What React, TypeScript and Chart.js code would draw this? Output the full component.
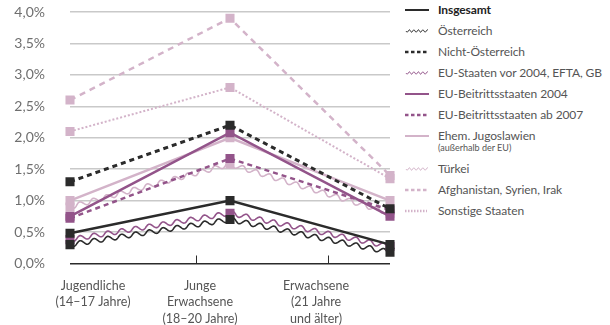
import React, { useEffect, useRef } from "react";
import { Chart, registerables } from "chart.js";

Chart.register(...registerables);

// ---- data ----
const categories: string[][] = [
  ["Jugendliche", "(14–17 Jahre)"],
  ["Junge", "Erwachsene", "(18–20 Jahre)"],
  ["Erwachsene", "(21 Jahre", "und älter)"],
];
const insgesamt = [0.48, 1.0, 0.3];
const oesterreich = [0.3, 0.7, 0.18];
const nichtOesterreich = [1.3, 2.2, 0.87];
const euVor2004 = [0.38, 0.8, 0.27];
const eu2004 = [0.75, 2.08, 0.75];
const euAb2007 = [0.72, 1.67, 0.85];
const jugoslawien = [1.0, 2.0, 1.0];
const tuerkei = [0.9, 1.58, 0.8];
const afghanistan = [2.6, 3.9, 1.4];
const sonstige = [2.1, 2.8, 1.35];
const yMin = 0;
const yMax = 4;
const yStep = 0.5;

// ---- styles ----
const DARK = "#2b2b2b";
const PURPLE = "#93548a";
const LIGHT = "#d3b3c9";
const FONT = "Lato, 'Open Sans', sans-serif";
const labelShift = [23, -30, -74];
const xTickMarks = [0.79, 1.61];

type Kind = "solid" | "wavy" | "dashed" | "dotted";
interface SeriesDef {
  label: string;
  sub?: string;
  data: number[];
  color: string;
  kind: Kind;
  dash?: number[];
  width: number;
  bold?: boolean;
}

const series: SeriesDef[] = [
  { label: "Insgesamt", data: insgesamt, color: DARK, kind: "solid", width: 2.5, bold: true },
  { label: "Österreich", data: oesterreich, color: DARK, kind: "wavy", width: 1.6 },
  { label: "Nicht-Österreich", data: nichtOesterreich, color: DARK, kind: "dashed", dash: [5, 4], width: 3 },
  { label: "EU-Staaten vor 2004, EFTA, GB", data: euVor2004, color: PURPLE, kind: "wavy", width: 1.6 },
  { label: "EU-Beitrittsstaaten 2004", data: eu2004, color: PURPLE, kind: "solid", width: 2.5 },
  { label: "EU-Beitrittsstaaten ab 2007", data: euAb2007, color: PURPLE, kind: "dashed", dash: [5, 4], width: 2.5 },
  { label: "Ehem. Jugoslawien", sub: "(außerhalb der EU)", data: jugoslawien, color: LIGHT, kind: "solid", width: 2.5 },
  { label: "Türkei", data: tuerkei, color: LIGHT, kind: "wavy", width: 1.6 },
  { label: "Afghanistan, Syrien, Irak", data: afghanistan, color: LIGHT, kind: "dashed", dash: [6, 5], width: 2.5 },
  { label: "Sonstige Staaten", data: sonstige, color: LIGHT, kind: "dotted", dash: [2, 2], width: 2 },
];

const AMP = 2.3;
const WL = 14;

function wavyPath(ctx: CanvasRenderingContext2D, pts: { x: number; y: number }[], amp: number, wl: number) {
  ctx.beginPath();
  let dist = 0;
  let first = true;
  for (let s = 0; s < pts.length - 1; s++) {
    const a = pts[s], b = pts[s + 1];
    const dx = b.x - a.x, dy = b.y - a.y;
    const L = Math.hypot(dx, dy);
    const ux = dx / L, uy = dy / L;
    const nx = -uy, ny = ux;
    for (let t = 0; t <= L; t += 0.5) {
      const off = amp * Math.sin((2 * Math.PI * (dist + t)) / wl);
      const x = a.x + ux * t + nx * off;
      const y = a.y + uy * t + ny * off;
      if (first) { ctx.moveTo(x, y); first = false; } else ctx.lineTo(x, y);
    }
    dist += L;
  }
  ctx.stroke();
}

const wavyPlugin = {
  id: "wavyLines",
  beforeDatasetsDraw(chart: any) {
    const ctx = chart.ctx as CanvasRenderingContext2D;
    for (let i = chart.data.datasets.length - 1; i >= 0; i--) {
      const ds = chart.data.datasets[i];
      if (!ds.wavy) continue;
      const meta = chart.getDatasetMeta(i);
      const pts = meta.data.map((p: any) => ({ x: p.x, y: p.y }));
      ctx.save();
      ctx.strokeStyle = ds.borderColor;
      ctx.lineWidth = ds.wavyWidth;
      ctx.lineJoin = "round";
      wavyPath(ctx, pts, AMP, WL);
      ctx.restore();
    }
  },
};

const xLabelPlugin = {
  id: "xLabels",
  afterDraw(chart: any) {
    const ctx = chart.ctx as CanvasRenderingContext2D;
    const xs = chart.scales.x;
    const area = chart.chartArea;
    ctx.save();
    ctx.strokeStyle = DARK;
    ctx.lineWidth = 1;
    xTickMarks.forEach((v) => {
      const p0 = xs.getPixelForValue(0);
      const p1 = xs.getPixelForValue(1);
      const x = Math.round(p0 + (p1 - p0) * v) + 0.5;
      ctx.beginPath();
      ctx.moveTo(x, area.bottom);
      ctx.lineTo(x, area.bottom - 8);
      ctx.stroke();
    });
    ctx.fillStyle = "#555";
    ctx.font = `12.5px ${FONT}`;
    ctx.textAlign = "center";
    ctx.textBaseline = "middle";
    categories.forEach((lines, i) => {
      const cx = xs.getPixelForValue(i) + labelShift[i];
      lines.forEach((ln, j) => {
        ctx.fillText(ln, cx, area.bottom + 22 + j * 16.5);
      });
    });
    ctx.restore();
  },
};

function Sample({ s }: { s: SeriesDef }) {
  const w = 28, h = 10, y = 6;
  if (s.kind === "wavy") {
    let d = "";
    for (let x = 0; x <= 22; x += 0.5) {
      const yy = y + 1.2 * Math.sin((2 * Math.PI * x) / 4.5);
      d += (x === 0 ? "M" : "L") + (x + 1).toFixed(2) + " " + yy.toFixed(2) + " ";
    }
    return (
      <svg width={w} height={h} style={{ display: "block" }}>
        <path d={d} fill="none" stroke={s.color} strokeWidth={1} />
      </svg>
    );
  }
  const dash = s.kind === "dashed" ? "3.5 2.5" : s.kind === "dotted" ? "1.5 1.5" : undefined;
  return (
    <svg width={w} height={h} style={{ display: "block" }}>
      <line x1={0} x2={s.kind === "solid" ? 24 : 22} y1={y} y2={y} stroke={s.color} strokeWidth={s.kind === "solid" ? 2 : 2.5} strokeDasharray={dash} />
    </svg>
  );
}

export default function App() {
  const ref = useRef<HTMLCanvasElement | null>(null);

  useEffect(() => {
    if (!ref.current) return;
    const datasets: any[] = series.map((s) => ({
      label: s.label,
      data: s.data,
      borderColor: s.color,
      backgroundColor: s.color,
      borderWidth: s.width,
      borderDash: s.kind === "dashed" || s.kind === "dotted" ? s.dash : [],
      showLine: s.kind !== "wavy",
      wavy: s.kind === "wavy",
      wavyWidth: s.width,
      pointStyle: "rect",
      pointRadius: 6.4,
      pointBorderWidth: 0,
      pointBackgroundColor: s.color,
      tension: 0,
      fill: false,
    }));
    const chart = new Chart(ref.current, {
      type: "line",
      data: { labels: categories.map((c) => c.join(" ")), datasets },
      options: {
        responsive: false,
        maintainAspectRatio: false,
        animation: false,
        layout: { padding: { top: 12, right: 10, left: 0, bottom: 0 } },
        plugins: { legend: { display: false }, tooltip: { enabled: false } },
        scales: {
          x: {
            type: "category",
            offset: false,
            grid: { display: false },
            border: { display: false },
            ticks: { display: false },
            afterFit: (s: any) => { s.height = 61.5; },
          },
          y: {
            min: yMin,
            max: yMax,
            border: { display: false },
            grid: {
              drawTicks: false,
              color: (c: any) => (c.tick && c.tick.value === 0 ? DARK : "#c9c9c9"),
              lineWidth: 1.5,
            },
            ticks: {
              stepSize: yStep,
              padding: 25,
              color: "#6f6f6f",
              font: { family: FONT, size: 14 },
              callback: (v: any) => Number(v).toFixed(1).replace(".", ",") + "%",
            },
            afterFit: (s: any) => {
              s.width = 70;
              s.paddingTop = 0;
              s.paddingBottom = 0;
            },
          },
        },
      } as any,
      plugins: [wavyPlugin, xLabelPlugin],
    });
    return () => chart.destroy();
  }, []);

  return (
    <div style={{ position: "absolute", left: 0, top: 0, width: 610, height: 325, background: "#fff", fontFamily: FONT }}>
      <canvas ref={ref} width={400} height={325} style={{ position: "absolute", left: 0, top: 0, width: 400, height: 325 }} />
      <div style={{ position: "absolute", left: 405, top: -1.5, width: 205 }}>
        {series.map((s, i) => (
          <div key={i} style={{ display: "flex", alignItems: "flex-start", height: s.sub ? 33 : 21 }}>
            <div style={{ width: 33, paddingTop: 5 }}>
              <Sample s={s} />
            </div>
            <div style={{ lineHeight: "21px" }}>
              <div style={{ fontSize: 12, letterSpacing: "-0.1px", color: s.bold ? "#222" : "#555", fontWeight: s.bold ? 700 : 400, whiteSpace: "nowrap" }}>{s.label}</div>
              {s.sub && (
                <div style={{ fontSize: 9, color: "#555", lineHeight: "10px", marginTop: -3 }}>{s.sub}</div>
              )}
            </div>
          </div>
        ))}
      </div>
    </div>
  );
}
